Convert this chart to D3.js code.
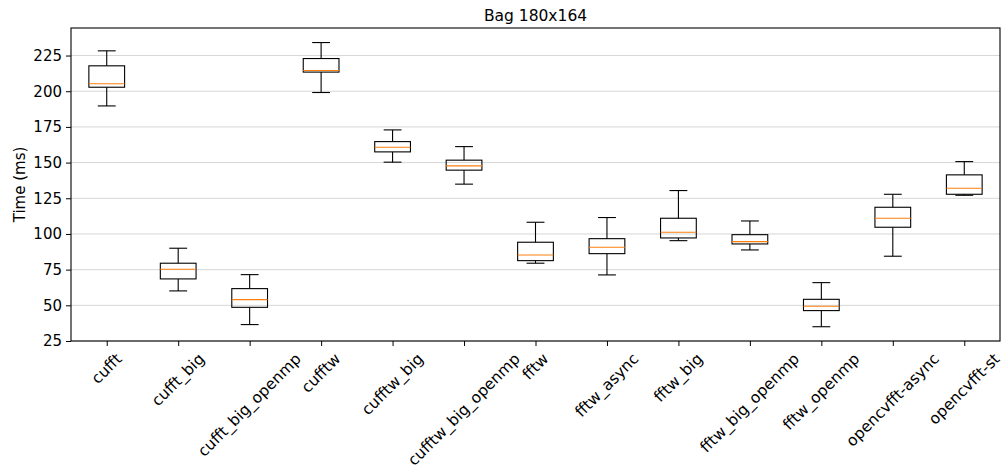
<!DOCTYPE html>
<html>
<head>
<meta charset="utf-8">
<script src="https://cdn.jsdelivr.net/npm/d3@7"></script>
<style>
  body { margin: 0; background: #fff; }
  svg { font-family: "DejaVu Sans", sans-serif; }
</style>
</head>
<body>
<svg id="chart" width="1008" height="470"></svg>
<script>
// values (ms)
const categories = ["cufft", "cufft_big", "cufft_big_openmp", "cufftw", "cufftw_big",
  "cufftw_big_openmp", "fftw", "fftw_async", "fftw_big", "fftw_big_openmp",
  "fftw_openmp", "opencvfft-async", "opencvfft-st"];
const whiskerLow  = [189.7, 60.1, 36.5, 199.1, 150.3, 134.9, 79.5, 71.3, 95.3, 88.8, 35.0, 84.4, 127.1];
const q1          = [202.8, 68.5, 48.6, 213.4, 157.5, 144.7, 81.3, 86.2, 97.2, 93.0, 46.3, 104.7, 127.8];
const medians     = [205.2, 75.3, 54.0, 214.5, 160.8, 147.7, 85.3, 90.7, 101.2, 94.6, 49.3, 111.0, 132.0];
const q3          = [217.8, 79.5, 61.7, 222.9, 164.7, 151.7, 94.2, 96.7, 111.0, 99.5, 54.2, 118.7, 141.4];
const whiskerHigh = [228.3, 90.0, 71.5, 234.1, 172.9, 161.2, 108.2, 111.5, 130.4, 109.1, 65.9, 127.8, 150.7];
const yTicks = [25, 50, 75, 100, 125, 150, 175, 200, 225];

const leftEdge = 71, rightEdge = 1000, topEdge = 28, botEdge = 341;
const svg = d3.select("#chart");

const x = d3.scaleLinear().domain([0.5, categories.length + 0.5]).range([leftEdge, rightEdge]);
const y = d3.scaleLinear().domain([25, 244.3]).range([botEdge, topEdge]);
const step = x(2) - x(1);

// grid
svg.append("g")
  .selectAll("line").data(yTicks).enter().append("line")
  .attr("x1", leftEdge).attr("x2", rightEdge)
  .attr("y1", d => y(d)).attr("y2", d => y(d))
  .attr("stroke", "#d6d6d6").attr("stroke-width", 1);

// axes
const yAxis = svg.append("g")
  .attr("transform", "translate(" + leftEdge + ",0)")
  .call(d3.axisLeft(y).tickValues(yTicks).tickSize(5).tickPadding(4));
const xAxis = svg.append("g")
  .attr("transform", "translate(0," + botEdge + ")")
  .call(d3.axisBottom(x).tickValues(d3.range(1, categories.length + 1)).tickSize(5).tickFormat(""));
[yAxis, xAxis].forEach(a => {
  a.select(".domain").remove();
  a.selectAll(".tick line").attr("stroke", "#000").attr("stroke-width", 1);
});
yAxis.selectAll(".tick text").attr("font-size", 15).attr("fill", "#000").attr("font-family", "DejaVu Sans");

// rotated category labels, bbox centred under each tick
const labels = svg.append("g");
categories.forEach((c, i) => {
  const t = labels.append("text")
    .attr("font-size", 15.5)
    .attr("text-anchor", "middle")
    .attr("dominant-baseline", "central")
    .text(c);
  const w = t.node().getComputedTextLength();
  const h = 15;
  const cy = botEdge + 10 + (w + h) * Math.SQRT1_2 / 2;
  t.attr("transform", "translate(" + x(i + 1) + "," + cy + ")rotate(-45)");
});

// boxes
const boxes = svg.append("g").selectAll("g").data(categories).enter().append("g");
const line = (sel, x1, x2, y1, y2) => sel.append("line")
  .attr("x1", x1).attr("x2", x2).attr("y1", y1).attr("y2", y2)
  .attr("stroke", "#000").attr("stroke-width", 1.1);
boxes.each(function (c, i) {
  const g = d3.select(this);
  const cx = x(i + 1);
  line(g, cx, cx, y(q3[i]), y(whiskerHigh[i]));
  line(g, cx, cx, y(q1[i]), y(whiskerLow[i]));
  line(g, cx - step / 8, cx + step / 8, y(whiskerHigh[i]), y(whiskerHigh[i]));
  line(g, cx - step / 8, cx + step / 8, y(whiskerLow[i]), y(whiskerLow[i]));
  g.append("rect")
    .attr("x", cx - step / 4).attr("width", step / 2)
    .attr("y", y(q3[i])).attr("height", y(q1[i]) - y(q3[i]))
    .attr("fill", "none").attr("stroke", "#000").attr("stroke-width", 1.1);
  g.append("line")
    .attr("x1", cx - step / 4).attr("x2", cx + step / 4)
    .attr("y1", y(medians[i])).attr("y2", y(medians[i]))
    .attr("stroke", "#ff7f0e").attr("stroke-width", 1.1);
});

// frame
svg.append("rect")
  .attr("x", leftEdge).attr("y", topEdge).attr("width", rightEdge - leftEdge).attr("height", botEdge - topEdge)
  .attr("fill", "none").attr("stroke", "#000").attr("stroke-width", 1.1);

svg.append("text")
  .attr("x", (leftEdge + rightEdge) / 2).attr("y", topEdge - 7)
  .attr("text-anchor", "middle").attr("font-size", 15.5)
  .text("Bag 180x164");

svg.append("text")
  .attr("transform", "translate(20," + (topEdge + botEdge) / 2 + ")rotate(-90)")
  .attr("text-anchor", "middle").attr("dominant-baseline", "central")
  .attr("font-size", 15)
  .text("Time (ms)");
</script>
</body>
</html>
